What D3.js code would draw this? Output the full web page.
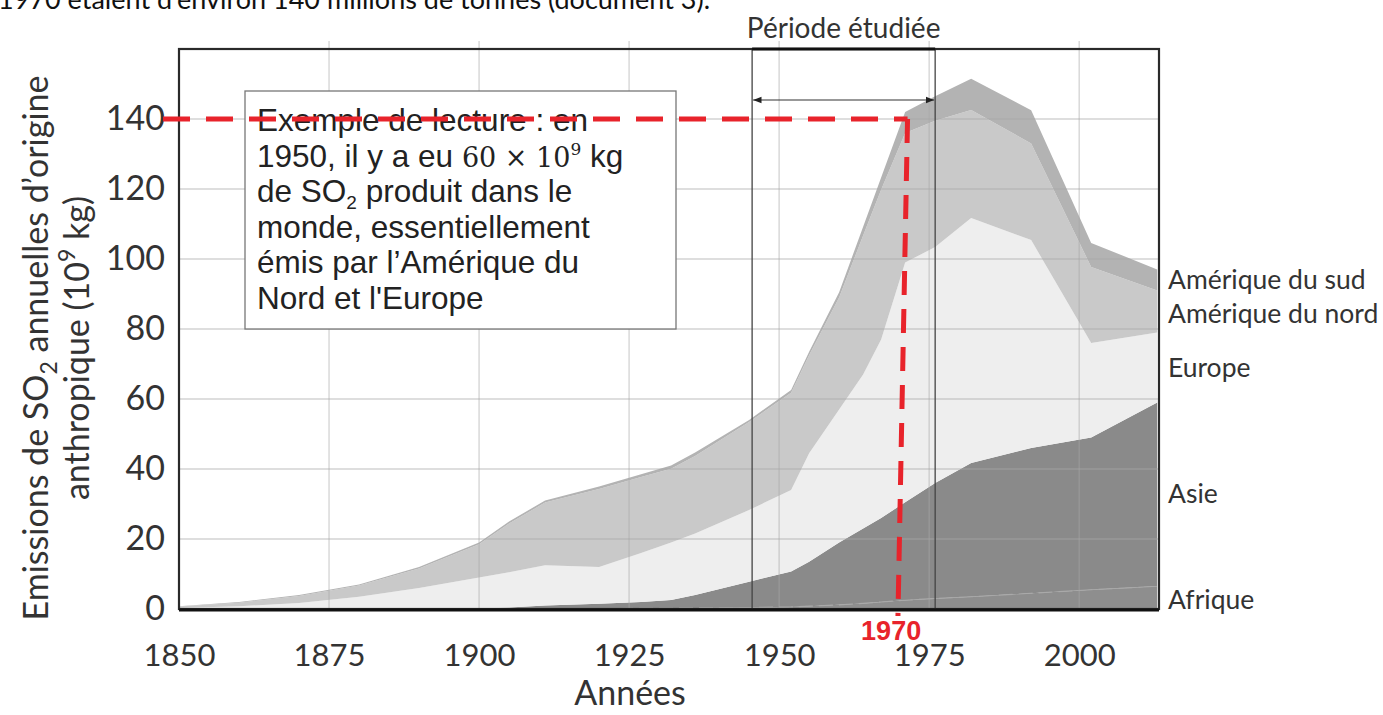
<!DOCTYPE html>
<html>
<head>
<meta charset="utf-8">
<script src="https://cdn.jsdelivr.net/npm/d3@7"></script>
<style>
  body { margin: 0; background: #fff; }
  text { font-family: Lato, "Open Sans", sans-serif; }
</style>
</head>
<body>
<div id="chart"></div>
<script>
///////////// data //////////////
var years        = [1850, 1860, 1870, 1880, 1890, 1900, 1905, 1911, 1920, 1927, 1932, 1936, 1945, 1952, 1955, 1960, 1964, 1967, 1971, 1976, 1982, 1992, 2002, 2013];
var afrique      = [0,    0,    0,    0,    0,    0,    0,    0.1,  0.1,  0.2,  0.2,  0.3,  0.4,  0.6,  0.8,  1.2,  1.6,  2.0,  2.5,  3.0,  3.5,  4.5,  5.5,  6.5];
var asie         = [0,    0,    0,    0,    0.1,  0.2,  0.4,  0.9,  1.4,  1.8,  2.4,  3.7,  7.4,  10.1, 12.7, 17.8, 21.4, 24.0, 28.0, 33.0, 38.2, 41.5, 43.5, 52.5];
var europe       = [0.3,  0.8,  1.7,  3.5,  5.9,  8.8,  10.1, 11.5, 10.5, 14.0, 16.4, 17.6, 20.5, 23.3, 31.0, 38.0, 44.0, 51.0, 68.5, 67.4, 70.0, 59.4, 27.0, 20.0];
var ameriqueNord = [0.4,  1.0,  2.0,  3.2,  5.6,  9.5,  13.9, 17.9, 22.3, 21.7, 21.1, 22.1, 25.1, 27.8, 28.0, 32.0, 39.7, 42.8, 37.0, 36.1, 30.9, 27.6, 21.7, 12.0];
var ameriqueSud  = [0.1,  0.2,  0.3,  0.3,  0.4,  0.5,  0.6,  0.6,  0.7,  0.8,  0.9,  1.0,  0.6,  0.8,  1.0,  1.5,  2.5,  3.5,  6.0,  7.0,  8.9,  9.5,  6.9,  6.0];

var seriesNames  = ['Afrique', 'Asie', 'Europe', 'Amérique du nord', 'Amérique du sud'];
var seriesColors = ['#8e8e8e', '#8a8a8a', '#eeeeee', '#c9c9c9', '#b3b3b3'];
// where the names sit on the right, in 10^9 kg
var labelOrder   = ['Amérique du sud', 'Amérique du nord', 'Europe', 'Asie', 'Afrique'];
var labelValues  = [94, 84.3, 68.9, 32.9, 2.6];

var yTicks = [0, 20, 40, 60, 80, 100, 120, 140];
var xTicks = [1850, 1875, 1900, 1925, 1950, 1975, 2000];

var periode     = [1945.5, 1976];
var lectureYear = 1970;
var lectureVal  = 140;

var lectureLines = [
  'Exemple de lecture : en',
  '1950, il y a eu 60 × 10^9 kg',
  'de SO_2 produit dans le',
  'monde, essentiellement',
  'émis par l\u2019Amérique du',
  'Nord et l\'Europe'
];

///////////// setup //////////////
var width = 1383, height = 715;
var plot = {left: 179, right: 1159, top: 49, bottom: 609};

var svg = d3.select('#chart').append('svg')
  .attr('width', width).attr('height', height);

svg.append('rect').attr('width', width).attr('height', height).attr('fill', '#fff');

var x = d3.scaleLinear().domain([1850, 2013.3]).range([plot.left, plot.right]);
var y = d3.scaleLinear().domain([0, 160]).range([plot.bottom, plot.top]);

// table for the stack
var cols = [afrique, asie, europe, ameriqueNord, ameriqueSud];
var table = years.map(function(yr, i) {
  var row = {year: yr};
  seriesNames.forEach(function(n, k) { row[n] = cols[k][i]; });
  return row;
});
var stacked = d3.stack().keys(seriesNames)(table);

// cut-off sentence of the page above the figure
svg.append('text').attr('x', -2).attr('y', 9)
  .attr('font-size', 27).attr('fill', '#111')
  .text('1970 étaient d\u2019environ 140 millions de tonnes (document 3).');

///////////// areas //////////////
svg.append('clipPath').attr('id', 'clip').append('rect')
  .attr('x', plot.left).attr('y', plot.top)
  .attr('width', plot.right - plot.left).attr('height', plot.bottom - plot.top);

var area = d3.area()
  .x(function(d) { return x(d.data.year); })
  .y0(function(d) { return y(d[0]); })
  .y1(function(d) { return y(d[1]); });

svg.append('g').attr('clip-path', 'url(#clip)')
  .selectAll('path').data(stacked).enter().append('path')
  .attr('d', area)
  .attr('fill', function(d, i) { return seriesColors[i]; });

// faint line on top of Afrique
svg.append('path').datum(stacked[0])
  .attr('fill', 'none').attr('stroke', '#a9a9a9').attr('stroke-width', 1.2)
  .attr('stroke-dasharray', '14,6')
  .attr('d', d3.line().x(function(d) { return x(d.data.year); }).y(function(d) { return y(d[1]); }));

///////////// grid //////////////
var grid = svg.append('g').attr('stroke', '#a8a8a8').attr('stroke-opacity', 0.5).attr('stroke-width', 1.3);
grid.selectAll('.hg').data(yTicks.slice(1)).enter().append('line')
  .attr('x1', plot.left).attr('x2', plot.right)
  .attr('y1', function(d) { return y(d); }).attr('y2', function(d) { return y(d); });
grid.selectAll('.vg').data(xTicks.slice(1)).enter().append('line')
  .attr('x1', function(d) { return x(d); }).attr('x2', function(d) { return x(d); })
  .attr('y1', plot.top - 8).attr('y2', plot.bottom);

///////////// reading example box //////////////
var box = svg.append('g');
box.append('rect').attr('x', 245).attr('y', 91).attr('width', 431).attr('height', 238)
  .attr('fill', '#fff').attr('stroke', '#777').attr('stroke-width', 1.3);

var bt = box.append('text').attr('font-size', 31.5).attr('fill', '#222')
  .style('font-family', '"Liberation Sans", Arial, sans-serif');
lectureLines.forEach(function(line, i) {
  var t = bt.append('tspan').attr('x', 257).attr('y', 131 + i * 35.5);
  if (line.indexOf('^') > -1) {
    t.text('1950, il y a eu ');
    bt.append('tspan').style('font-family', '"DejaVu Serif", serif').attr('font-size', 27).text('60 × 10');
    bt.append('tspan').style('font-family', '"DejaVu Serif", serif').attr('font-size', 17).attr('dy', -12).text('9');
    bt.append('tspan').attr('dy', 12).text(' kg');
  } else if (line.indexOf('_') > -1) {
    t.text('de SO');
    bt.append('tspan').attr('font-size', 19).attr('dy', 7).text('2');
    bt.append('tspan').attr('dy', -7).text(' produit dans le');
  } else {
    t.text(line);
  }
});

///////////// study period //////////////
var per = svg.append('g');
per.append('rect')
  .attr('x', x(periode[0])).attr('y', plot.top)
  .attr('width', x(periode[1]) - x(periode[0])).attr('height', plot.bottom - plot.top)
  .attr('fill', 'none').attr('stroke', '#444').attr('stroke-width', 1.3);

svg.append('defs').selectAll('marker').data(['a-end', 'a-start']).enter().append('marker')
  .attr('id', function(d) { return d; })
  .attr('viewBox', '0 0 10 10').attr('refX', 10).attr('refY', 5)
  .attr('markerWidth', 7).attr('markerHeight', 7)
  .attr('orient', 'auto-start-reverse')
  .append('path').attr('d', 'M0,1 L10,5 L0,9 z').attr('fill', '#222');

per.append('line')
  .attr('x1', x(periode[0]) + 1).attr('x2', x(periode[1]) - 1)
  .attr('y1', 100).attr('y2', 100)
  .attr('stroke', '#333').attr('stroke-width', 1.2)
  .attr('marker-start', 'url(#a-start)').attr('marker-end', 'url(#a-end)');

per.append('text')
  .attr('x', (x(periode[0]) + x(periode[1])) / 2).attr('y', 38)
  .attr('text-anchor', 'middle').attr('font-size', 28).attr('fill', '#333')
  .text('Période étudiée');

///////////// frame //////////////
svg.append('rect')
  .attr('x', plot.left).attr('y', plot.top)
  .attr('width', plot.right - plot.left).attr('height', plot.bottom - plot.top)
  .attr('fill', 'none').attr('stroke', '#2a2a2a').attr('stroke-width', 2.2);
svg.append('line').attr('x1', plot.left).attr('x2', plot.right)
  .attr('y1', plot.bottom + 1).attr('y2', plot.bottom + 1)
  .attr('stroke', '#111').attr('stroke-width', 3);
// heavier top edge over the study period
svg.append('line').attr('x1', x(periode[0])).attr('x2', x(periode[1]))
  .attr('y1', plot.top).attr('y2', plot.top)
  .attr('stroke', '#111').attr('stroke-width', 3);

///////////// axes //////////////
var yAxis = svg.append('g').attr('transform', 'translate(' + plot.left + ',0)')
  .call(d3.axisLeft(y).tickValues(yTicks).tickSize(0).tickPadding(14));
yAxis.select('.domain').remove();
yAxis.selectAll('text').attr('font-size', 34).attr('fill', '#333')
  .style('font-family', 'Lato, sans-serif');

var xAxis = svg.append('g').attr('transform', 'translate(0,' + plot.bottom + ')')
  .call(d3.axisBottom(x).tickValues(xTicks).tickFormat(d3.format('d')).tickSize(0).tickPadding(35));
xAxis.select('.domain').remove();
xAxis.selectAll('text').attr('font-size', 31).attr('fill', '#333')
  .style('font-family', 'Lato, sans-serif');

// axis titles
var yt = svg.append('text').attr('transform', 'translate(48,348) rotate(-90)')
  .attr('text-anchor', 'middle').attr('font-size', 34).attr('fill', '#333');
yt.append('tspan').text('Emissions de SO');
yt.append('tspan').attr('font-size', 23).attr('dy', 9).text('2');
yt.append('tspan').attr('dy', -9).text(' annuelles d\u2019origine');

var yt2 = svg.append('text').attr('transform', 'translate(89,348) rotate(-90)')
  .attr('text-anchor', 'middle').attr('font-size', 34).attr('fill', '#333');
yt2.append('tspan').text('anthropique (10');
yt2.append('tspan').attr('font-size', 23).attr('dy', -14).text('9');
yt2.append('tspan').attr('dy', 14).text(' kg)');

svg.append('text').attr('x', 630).attr('y', 705).attr('text-anchor', 'middle')
  .attr('font-size', 34).attr('fill', '#333').text('Années');

// series names on the right
svg.selectAll('.lab').data(labelOrder).enter().append('text')
  .attr('x', plot.right + 9)
  .attr('y', function(d, i) { return y(labelValues[i]); })
  .attr('dy', '0.35em').attr('font-size', 26.5).attr('fill', '#333')
  .text(function(d) { return d; });

///////////// red reading lines //////////////
var red = '#e8232b';
svg.append('line')
  .attr('x1', 163).attr('x2', x(lectureYear + 1.4))
  .attr('y1', y(lectureVal)).attr('y2', y(lectureVal))
  .attr('stroke', red).attr('stroke-width', 5).attr('stroke-dasharray', '27,16');
svg.append('line')
  .attr('x1', x(lectureYear + 1.4)).attr('x2', x(lectureYear - 0.2))
  .attr('y1', y(lectureVal)).attr('y2', plot.bottom + 7)
  .attr('stroke', red).attr('stroke-width', 5).attr('stroke-dasharray', '24,14');
svg.append('text').attr('x', x(lectureYear) - 8).attr('y', 640)
  .attr('text-anchor', 'middle').attr('font-size', 27).attr('font-weight', 'bold')
  .attr('fill', red).style('font-family', '"Liberation Sans Narrow", "Liberation Sans", Arial, sans-serif')
  .text(lectureYear);
</script>
</body>
</html>
